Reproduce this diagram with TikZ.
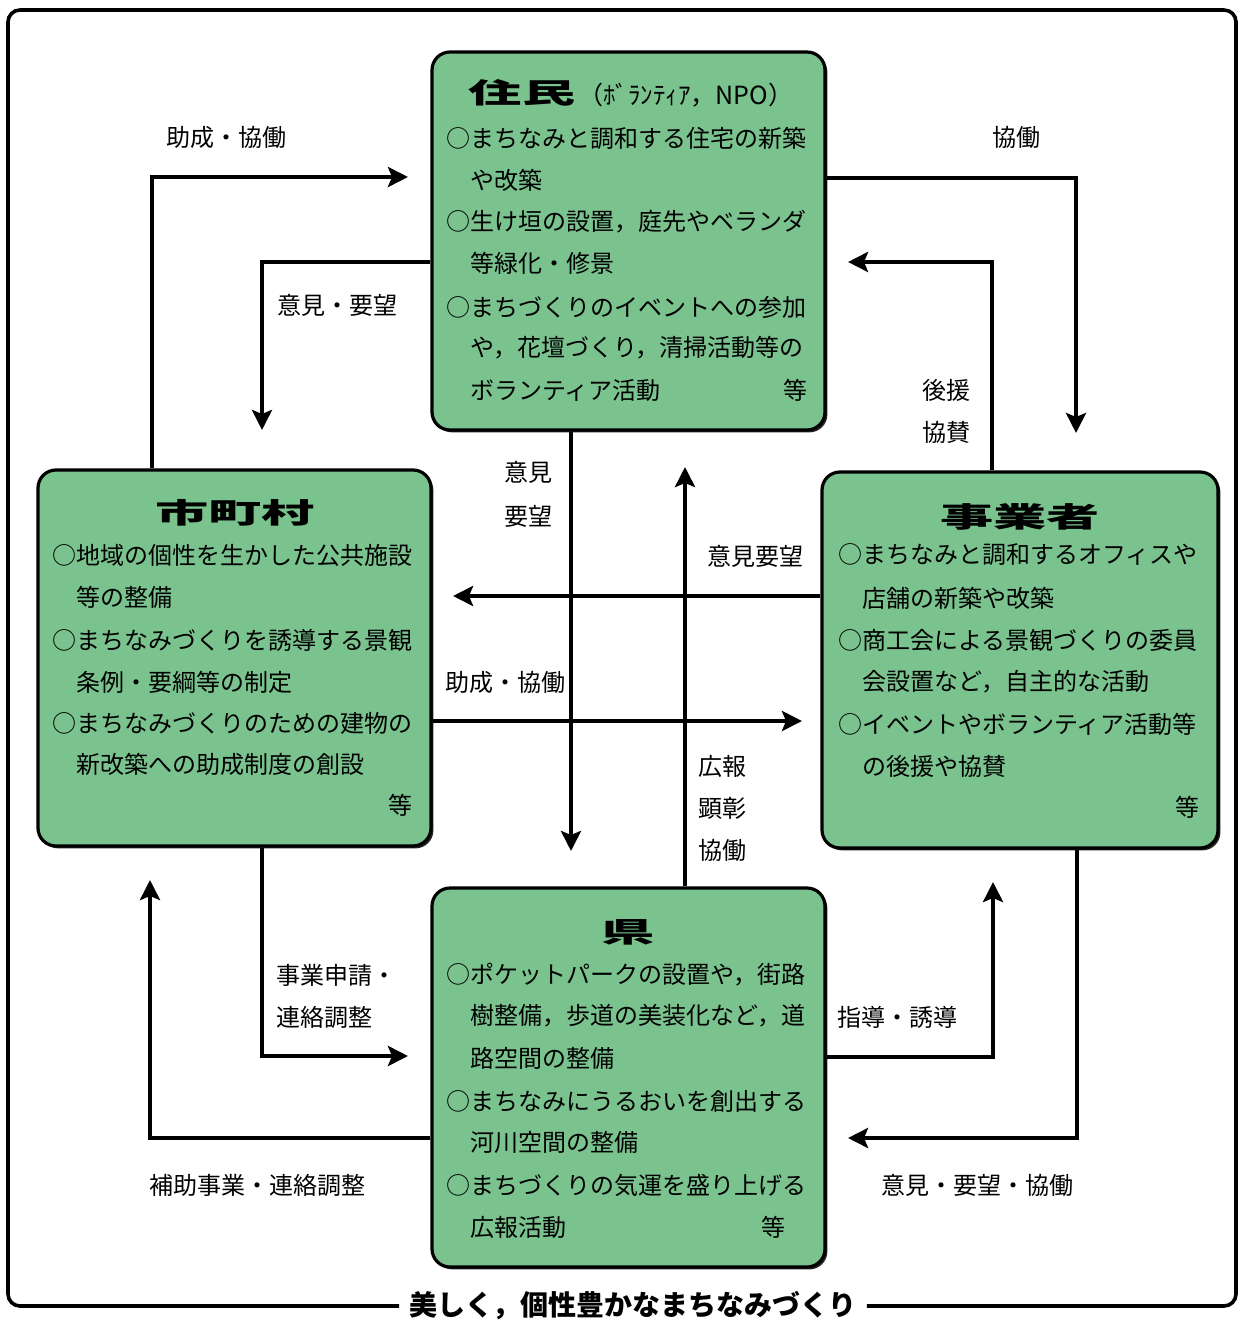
\documentclass[tikz,border=0pt]{standalone}
\usepackage{fontspec}
\usepackage{graphicx}
\setmainfont{Noto Sans CJK JP}
\usetikzlibrary{arrows.meta,fit,shadows,calc}
\definecolor{boxgreen}{RGB}{122,194,142}
\begin{document}
\begin{tikzpicture}[x=0.5pt,y=-0.5pt,
  box/.style={draw=black, line width=1.6pt, rounded corners=9pt, fill=boxgreen, inner sep=0pt,
    drop shadow={shadow xshift=1.2pt, shadow yshift=-1.2pt, fill=black, opacity=0.85}},
  txt/.style={anchor=west, inner sep=0pt, font=\fontsize{12}{14}\selectfont},
  etc/.style={anchor=east, inner sep=0pt, font=\fontsize{12}{14}\selectfont},
  lab/.style={anchor=center, inner sep=0pt, font=\fontsize{12}{14}\selectfont},
  labw/.style={anchor=west, inner sep=0pt, font=\fontsize{12}{14}\selectfont},
  ttl/.style={inner sep=0pt, font=\fontsize{14}{16}\selectfont\bfseries},
  arr/.style={line width=2pt, line join=miter, -{Stealth[length=10pt,width=10pt,inset=2pt]}},
  frame/.style={line width=1.8pt, rounded corners=6pt},
  bigttl/.style={inner sep=0pt}
]
\useasboundingbox (0,0) rectangle (1239,1320);

% outer frame with title
\node[ttl] (title) at (633,1306) {美しく，個性豊かなまちなみづくり};
\draw[frame] ([xshift=-5pt]title.west) -| (8,10) -| (1236,1306) -- ([xshift=5pt]title.east);

% boxes
\node[box, fit={(432,52) (825,430)}] (res) {};
\node[box, fit={(38,470) (431,846)}] (city) {};
\node[box, fit={(822,472) (1218,848)}] (biz) {};
\node[box, fit={(432,888) (825,1267)}] (pref) {};

% 住民 contents
\node[bigttl] (resT) at (522,93) {\scalebox{1.9}[1]{\fontsize{14}{16}\selectfont\bfseries 住民}};
\node[anchor=west, inner sep=0pt, font=\fontsize{12.5}{14}\selectfont] (resS) at (578,95) {（ﾎﾞﾗﾝﾃｨｱ，NPO）};
\node[txt] (r1) at (446,138) {○まちなみと調和する住宅の新築};
\node[txt] (r2) at (470,180) {や改築};
\node[txt] (r3) at (446,222) {○生け垣の設置，庭先やベランダ};
\node[txt] (r4) at (470,263) {等緑化・修景};
\node[txt] (r5) at (446,307) {○まちづくりのイベントへの参加};
\node[txt] (r6) at (470,348) {や，花壇づくり，清掃活動等の};
\node[txt] (r7) at (470,390) {ボランティア活動};
\node[etc] (r8) at (808,390) {等};

% 市町村 contents
\node[bigttl] (cityT) at (235,513) {\scalebox{1.9}[1]{\fontsize{14}{16}\selectfont\bfseries 市町村}};
\node[txt] (c1) at (52,555) {○地域の個性を生かした公共施設};
\node[txt] (c2) at (76,597) {等の整備};
\node[txt] (c3) at (52,640) {○まちなみづくりを誘導する景観};
\node[txt] (c4) at (76,682) {条例・要綱等の制定};
\node[txt] (c5) at (52,723) {○まちなみづくりのための建物の};
\node[txt] (c6) at (76,764) {新改築への助成制度の創設};
\node[etc] (c7) at (413,805) {等};

% 事業者 contents
\node[bigttl] (bizT) at (1020,517) {\scalebox{1.9}[1]{\fontsize{14}{16}\selectfont\bfseries 事業者}};
\node[txt] (b1) at (838,555) {○まちなみと調和するオフィスや};
\node[txt] (b2) at (862,598) {店舗の新築や改築};
\node[txt] (b3) at (838,640) {○商工会による景観づくりの委員};
\node[txt] (b4) at (862,682) {会設置など，自主的な活動};
\node[txt] (b5) at (838,724) {○イベントやボランティア活動等};
\node[txt] (b6) at (862,766) {の後援や協賛};
\node[etc] (b7) at (1200,807) {等};

% 県 contents
\node[bigttl] (prefT) at (628,932) {\scalebox{1.9}[1]{\fontsize{14}{16}\selectfont\bfseries 県}};
\node[txt] (p1) at (446,975) {○ポケットパークの設置や，街路};
\node[txt] (p2) at (470,1016) {樹整備，歩道の美装化など，道};
\node[txt] (p3) at (470,1058) {路空間の整備};
\node[txt] (p4) at (446,1101) {○まちなみにうるおいを創出する};
\node[txt] (p5) at (470,1142) {河川空間の整備};
\node[txt] (p6) at (446,1185) {○まちづくりの気運を盛り上げる};
\node[txt] (p7) at (470,1227) {広報活動};
\node[etc] (p8) at (786,1227) {等};

% connector coordinates
\coordinate (a1) at (152,177);   \coordinate (a1e) at (408,177);
\coordinate (a2b) at (262,262);  \coordinate (a2e) at (262,430);
\coordinate (a3b) at (1076,178); \coordinate (a3e) at (1076,433);
\coordinate (a4b) at (992,262);  \coordinate (a4e) at (848,262);
\coordinate (a5e) at (571,851);
\coordinate (a6e) at (685,467);
\coordinate (a7e) at (453,596);
\coordinate (a8e) at (802,721);
\coordinate (a9b) at (262,1056); \coordinate (a9e) at (408,1056);
\coordinate (a10b) at (150,1138); \coordinate (a10e) at (150,880);
\coordinate (a11b) at (993,1057); \coordinate (a11e) at (993,882);
\coordinate (a12b) at (1077,1138); \coordinate (a12e) at (848,1138);

% connectors
\draw[arr] (city.north -| a1) -- (a1) -- (a1e);
\draw[arr] (res.west |- a2b) -- (a2b) -- (a2e);
\draw[arr] (res.east |- a3b) -- (a3b) -- (a3e);
\draw[arr] (biz.north -| a4b) -- (a4b) -- (a4e);
\draw[arr] (res.south -| a5e) -- (a5e);
\draw[arr] (pref.north -| a6e) -- (a6e);
\draw[arr] (biz.west |- a7e) -- (a7e);
\draw[arr] (city.east |- a8e) -- (a8e);
\draw[arr] (city.south -| a9b) -- (a9b) -- (a9e);
\draw[arr] (pref.west |- a10b) -- (a10b) -- (a10e);
\draw[arr] (pref.east |- a11b) -- (a11b) -- (a11e);
\draw[arr] (biz.south -| a12b) -- (a12b) -- (a12e);

% connector labels
\node[lab] (l1) at (226,137) {助成・協働};
\node[lab] (l2) at (337,305) {意見・要望};
\node[lab] (l3) at (1016,137) {協働};
\node[lab] (l4a) at (946,390) {後援};
\node[lab] (l4b) at (946,432) {協賛};
\node[lab] (l5a) at (528,472) {意見};
\node[lab] (l5b) at (528,516) {要望};
\node[lab] (l7) at (755,556) {意見要望};
\node[lab] (l8) at (505,682) {助成・協働};
\node[lab] (l6a) at (722,766) {広報};
\node[lab] (l6b) at (722,808) {顕彰};
\node[lab] (l6c) at (722,850) {協働};
\node[labw] (l9a) at (276,975) {事業申請・};
\node[labw] (l9b) at (276,1017) {連絡調整};
\node[lab] (l11) at (897,1017) {指導・誘導};
\node[lab] (l10) at (257,1185) {補助事業・連絡調整};
\node[lab] (l12) at (977,1185) {意見・要望・協働};
\end{tikzpicture}
\end{document}
